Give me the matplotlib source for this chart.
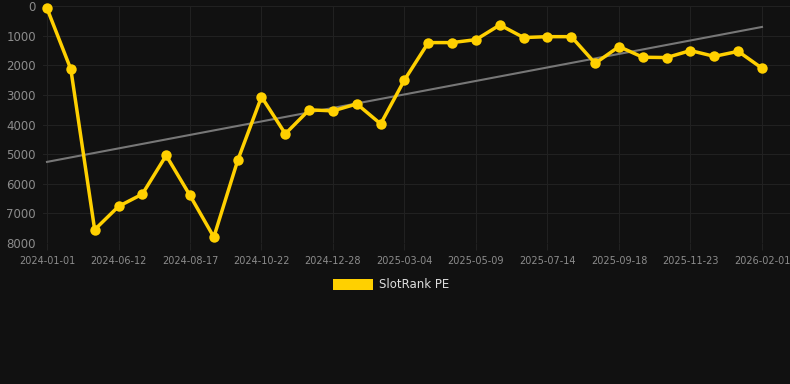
import numpy as np
import matplotlib
matplotlib.use("Agg")
import matplotlib.pyplot as plt
from matplotlib.patches import Rectangle

# Data
values = [80, 2135, 7550, 6765, 6350, 5045, 6395, 7800, 5215, 3065,
          4315, 3505, 3540, 3305, 3980, 2495, 1235, 1235, 1135, 640,
          1065, 1035, 1035, 1935, 1370, 1730, 1740, 1505, 1700, 1530, 2100]
tick_labels = ["2024-01-01", "2024-06-12", "2024-08-17", "2024-10-22", "2024-12-28",
               "2025-03-04", "2025-05-09", "2025-07-14", "2025-09-18", "2025-11-23",
               "2026-02-01"]
y_ticks = [0, 1000, 2000, 3000, 4000, 5000, 6000, 7000, 8000]
series_name = "SlotRank PE"

BG = "#111111"
GOLD = "#FFD000"
GRID = "#212121"
TXT = "#8c8c8c"

W, H = 790, 384
fig = plt.figure(figsize=(W / 100, H / 100), dpi=100, facecolor=BG)
ax = fig.add_axes([43 / W, 141 / H, (W - 43) / W, (243 - 6) / H])
ax.set_facecolor(BG)

x = np.arange(len(values))
# trend line (linear fit of the series)
coef = np.polyfit(x, values, 1)
ax.plot([x[0], x[-1]], np.polyval(coef, [x[0], x[-1]]), color="#777777", lw=1.5, zorder=2)

ax.plot(x, values, color=GOLD, lw=2.5, marker="o", markersize=7.5,
        markeredgewidth=0, zorder=3, clip_on=False)

ax.set_ylim(8000, 0)
ax.set_xlim(-4 / 23.83, 30 + 28 / 23.83)
ax.set_yticks(y_ticks)
ax.set_yticklabels([str(v) for v in y_ticks])
tick_pos = np.arange(0, len(values), 3)
ax.set_xticks(tick_pos)
ax.set_xticklabels(tick_labels)

ax.grid(True, color=GRID, lw=0.8)
ax.set_axisbelow(True)
for s in ax.spines.values():
    s.set_visible(False)
ax.tick_params(axis="x", colors=TXT, labelsize=7, length=5, width=0.8, color=GRID, pad=4)
ax.tick_params(axis="y", colors=TXT, labelsize=8.5, length=0, pad=5)

# Legend
fig.patches.append(Rectangle((333 / W, (H - 290) / H), 40 / W, 11 / H,
                             transform=fig.transFigure, facecolor=GOLD, edgecolor="none"))
fig.text(379 / W, (H - 284.5) / H, series_name, color="#dddddd", fontsize=8.5,
         va="center", ha="left")

fig.savefig("out.png", dpi=100, facecolor=BG)
